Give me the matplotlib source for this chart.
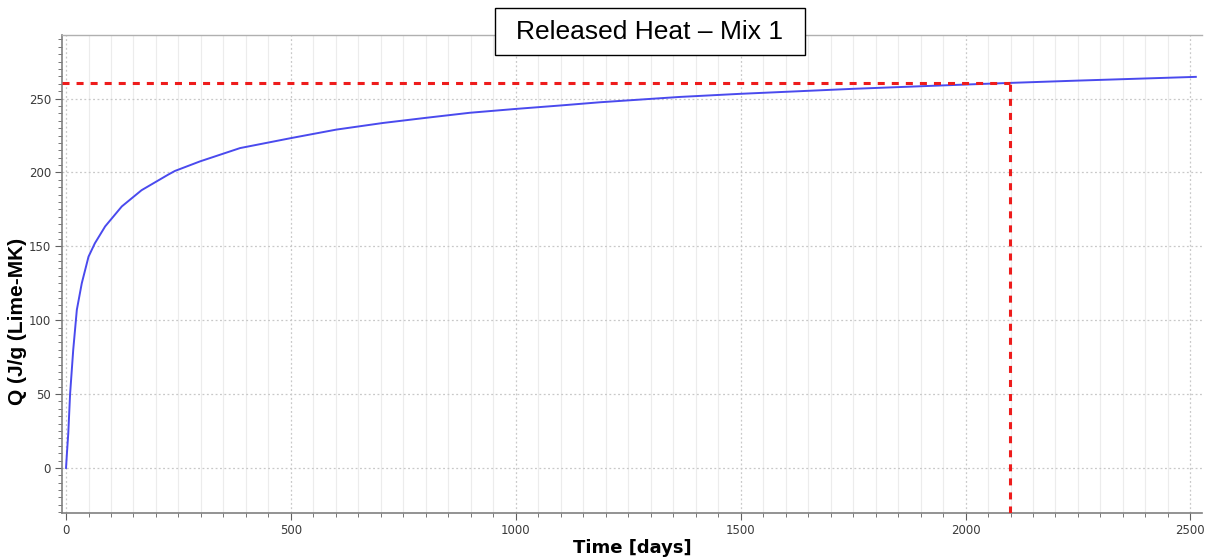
import numpy as np
import matplotlib.pyplot as plt
from matplotlib.ticker import MultipleLocator
from matplotlib.patches import Rectangle

# curve
days = [0, 2, 5, 9, 16, 24, 35, 50, 64, 87, 124, 168, 227, 242, 298, 387,
        501, 601, 705, 801, 898, 1000, 1098, 1187, 1364, 1498, 1750, 2000,
        2098, 2253, 2512]
heat = [0, 10, 23.5, 50, 80, 107, 125, 143, 152, 163.5, 177, 188, 198.5, 201,
        207.5, 216.5, 223.3, 229, 233.5, 237, 240.4, 243, 245.3, 247.5, 251.1,
        253.2, 256.6, 259.5, 260.6, 262.2, 264.7]
mark_day = 2098
mark_q = 260.6

fig = plt.figure(figsize=(12.06, 5.59), dpi=100)
ax = fig.add_axes([0.0514, 0.0823, 0.9450, 0.855])

ax.plot(days, heat, color='#4a4aee', lw=1.4, zorder=3)
ax.plot([-9, mark_day], [mark_q, mark_q], color='#ee1c1c', lw=2.2, ls=(0, (2.3, 2.3)), zorder=4)
ax.plot([mark_day, mark_day], [-30.5, mark_q], color='#ee1c1c', lw=2.2, ls=(0, (2.3, 2.3)), zorder=4)

ax.set_xlim(-9, 2525)
ax.set_ylim(-30.5, 293)
ax.xaxis.set_major_locator(MultipleLocator(500))
ax.xaxis.set_minor_locator(MultipleLocator(50))
ax.yaxis.set_major_locator(MultipleLocator(50))
ax.yaxis.set_minor_locator(MultipleLocator(5))

ax.grid(which='minor', axis='x', color='#ececec', lw=0.8, ls='-')
ax.grid(which='major', axis='both', color='#c8c8c8', lw=0.9, ls=(0, (1.5, 2)))

for s in ['left', 'bottom']:
    ax.spines[s].set_color('#808080')
    ax.spines[s].set_linewidth(1.2)
ax.spines['top'].set_color('#b0b0b0')
ax.spines['top'].set_linewidth(1.0)
ax.spines['right'].set_visible(False)

ax.tick_params(which='both', colors='#606060', labelcolor='#3a3a3a', labelsize=8.5)
ax.tick_params(which='major', length=5, pad=3)
ax.tick_params(which='minor', length=3)

ax.set_xlabel('Time [days]', fontsize=13, fontweight='bold', family='DejaVu Sans')
ax.xaxis.set_label_coords(0.5, -0.054)
ax.set_ylabel('Q (J/g (Lime-MK)', fontsize=15, fontweight='bold', family='Liberation Sans')
ax.yaxis.set_label_coords(-0.031, 0.40)

# title box
fig.patches.append(Rectangle((495 / 1206, 1 - 55 / 559), 310 / 1206, 47 / 559,
                             transform=fig.transFigure, fc='white', ec='black',
                             lw=1, zorder=10))
fig.text(650 / 1206, 1 - 32 / 559, 'Released Heat \u2013 Mix 1', ha='center', va='center',
         fontsize=19, family='Liberation Sans', zorder=11)

fig.savefig('out.png', dpi=100)
